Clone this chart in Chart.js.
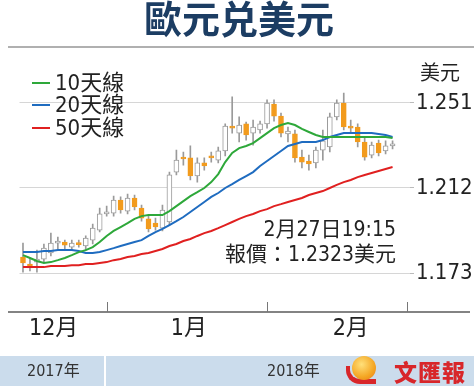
<!DOCTYPE html>
<html>
<head>
<meta charset="utf-8">
<script src="https://cdn.jsdelivr.net/npm/chart.js@4/dist/chart.umd.min.js"></script>
<style>
  html, body { margin:0; padding:0; background:#fff; }
  #wrap { position:relative; width:474px; height:389px; overflow:hidden; background:#fff; }
  canvas { position:absolute; left:0; top:0; }
  .narrow { font-family:'Liberation Sans Narrow','DejaVu Sans Condensed','Noto Sans CJK TC',sans-serif; }
  #title { position:absolute; left:0; top:-2px; width:478px; text-align:center; font-family:'Noto Sans CJK SC',sans-serif; font-weight:700; font-size:38px; line-height:38px; color:#1c3d63; }
  #rule { position:absolute; left:8px; top:46px; width:466px; height:2px; background:#b0b0b0; }
  .leg { position:absolute; left:32px; font-size:22px; line-height:22px; color:#222; white-space:nowrap; }
  .leg i { display:inline-block; width:18px; height:2px; vertical-align:middle; margin-right:5px; position:relative; top:-1px; }
  #unit { position:absolute; left:420px; top:61px; font-family:'Noto Sans CJK TC',sans-serif; font-size:20px; line-height:22px; color:#222; }
  .note { position:absolute; right:78px; font-size:21px; line-height:24px; color:#222; white-space:nowrap; }
  #strip { position:absolute; left:0; top:356px; width:474px; height:30px; background:#cbdcec; }
  #div { position:absolute; left:104px; top:356px; width:2px; height:30px; background:#fff; }
  .yr { position:absolute; top:362px; font-size:16px; line-height:18px; color:#333; }
  #logoText { position:absolute; left:394px; top:357px; font-family:'Noto Sans CJK TC',sans-serif; font-weight:900; font-size:23px; line-height:28px; color:#d8262a; letter-spacing:1px; }
  #logoIcon { position:absolute; left:352px; top:356px; width:24px; height:24px; border-radius:50%; background:radial-gradient(circle at 40% 35%, #ffe07a, #f4a623 60%, #e8761a); }
  #logoSwoosh { position:absolute; left:346px; top:366px; width:30px; height:18px; border-bottom:5px solid #d8262a; border-left:4px solid #d8262a; border-radius:0 0 0 14px; box-sizing:border-box; }
</style>
</head>
<body>
<div id="wrap">
  <canvas id="c" width="474" height="389"></canvas>
  <div id="title">歐元兑美元</div>
  <div id="rule"></div>
  <div class="leg narrow" style="top:72px"><i style="background:#2ea83a"></i>10天線</div>
  <div class="leg narrow" style="top:94px"><i style="background:#1f6cc0"></i>20天線</div>
  <div class="leg narrow" style="top:117px"><i style="background:#e02020"></i>50天線</div>
  <div id="unit">美元</div>
  <div class="note narrow" style="top:217px">2月27日19:15</div>
  <div class="note narrow" style="top:242px">報價：1.2323美元</div>
  <div id="strip"></div>
  <div id="div"></div>
  <div class="yr narrow" style="left:27px">2017年</div>
  <div class="yr narrow" style="left:267px">2018年</div>
  <div id="logoSwoosh"></div>
  <div id="logoIcon"></div>
  <div id="logoText">文匯報</div>
</div>
<script>
// ---- Data ----
const dates = [
  '12/14','12/15','12/18','12/19','12/20','12/21','12/22','12/25','12/26','12/27','12/28','12/29',
  '1/1','1/2','1/3','1/4','1/5','1/8','1/9','1/10','1/11','1/12','1/15','1/16','1/17','1/18','1/19',
  '1/22','1/23','1/24','1/25','1/26','1/29','1/30','1/31',
  '2/1','2/2','2/5','2/6','2/7','2/8','2/9','2/12','2/13','2/14','2/15','2/16','2/19','2/20','2/21',
  '2/22','2/23','2/26','2/27','2/28','3/1'
];
const openP = [1.1803,1.1771,1.1780,1.1794,1.1822,1.1867,1.1872,1.1849,1.1865,1.1854,1.1881,1.1927,
  1.2001,1.2005,1.2065,1.2014,1.2074,1.2028,1.1978,1.1959,1.1936,1.1964,1.2193,1.2258,1.2258,1.2175,1.2235,
  1.2262,1.2248,1.2290,1.2400,1.2372,1.2414,1.2372,1.2386,
  1.2414,1.2505,1.2450,1.2368,1.2368,1.2262,1.2244,1.2235,1.2294,1.2308,1.2446,1.2510,1.2404,1.2400,1.2331,
  1.2271,1.2326,1.2290,1.2313];
const highP = [1.1867,1.1799,1.1835,1.1863,1.1913,1.1895,1.1881,1.1881,1.1881,1.1900,1.1955,1.2028,
  1.2037,1.2083,1.2079,1.2092,1.2088,1.2042,1.1996,1.1982,1.2042,1.2193,1.2294,1.2285,1.2313,1.2258,1.2258,
  1.2285,1.2308,1.2414,1.2538,1.2446,1.2423,1.2432,1.2427,
  1.2524,1.2524,1.2464,1.2400,1.2386,1.2294,1.2271,1.2308,1.2386,1.2464,1.2524,1.2556,1.2432,1.2414,1.2354,
  1.2331,1.2340,1.2336,1.2336];
const lowP = [1.1734,1.1739,1.1734,1.1780,1.1808,1.1840,1.1835,1.1835,1.1849,1.1835,1.1863,1.1918,
  1.1991,1.1991,1.2005,1.2001,1.2019,1.1968,1.1918,1.1927,1.1923,1.1950,1.2180,1.2225,1.2157,1.2147,1.2202,
  1.2239,1.2235,1.2267,1.2372,1.2331,1.2340,1.2317,1.2372,
  1.2395,1.2427,1.2354,1.2331,1.2239,1.2212,1.2202,1.2212,1.2248,1.2285,1.2432,1.2386,1.2372,1.2308,1.2248,
  1.2258,1.2267,1.2276,1.2299];
const closeP = [1.1776,1.1753,1.1794,1.1844,1.1867,1.1870,1.1858,1.1867,1.1860,1.1890,1.1936,1.2001,
  1.2010,1.2065,1.2019,1.2074,1.2033,1.1982,1.1932,1.1941,1.2019,1.2180,1.2248,1.2253,1.2175,1.2235,1.2221,
  1.2258,1.2290,1.2404,1.2395,1.2409,1.2363,1.2400,1.2414,
  1.2510,1.2450,1.2372,1.2381,1.2258,1.2239,1.2230,1.2294,1.2336,1.2446,1.2510,1.2400,1.2395,1.2331,1.2262,
  1.2317,1.2281,1.2313,1.2323];
const ma10 = [1.1812,1.1799,1.1785,1.1776,1.1780,1.1789,1.1799,1.1812,1.1826,1.1835,1.1849,1.1872,
  1.1900,1.1923,1.1941,1.1959,1.1978,1.1991,1.1996,1.1996,1.1996,1.2014,1.2037,1.2060,1.2083,1.2101,1.2120,
  1.2147,1.2184,1.2239,1.2281,1.2303,1.2313,1.2326,1.2349,
  1.2372,1.2395,1.2409,1.2418,1.2409,1.2391,1.2377,1.2363,1.2354,1.2354,1.2354,1.2354,1.2354,1.2354,1.2354,
  1.2354,1.2354,1.2354,1.2349];
const ma20 = [1.1826,1.1826,1.1826,1.1831,1.1831,1.1835,1.1835,1.1835,1.1831,1.1822,1.1822,1.1826,
  1.1835,1.1844,1.1854,1.1863,1.1872,1.1881,1.1900,1.1918,1.1932,1.1950,1.1968,1.1987,1.2010,1.2033,1.2056,
  1.2079,1.2097,1.2120,1.2138,1.2157,1.2175,1.2193,1.2221,
  1.2244,1.2267,1.2290,1.2313,1.2322,1.2331,1.2331,1.2331,1.2340,1.2354,1.2363,1.2372,1.2372,1.2372,1.2372,
  1.2372,1.2368,1.2363,1.2354];
const ma50 = [1.1757,1.1757,1.1757,1.1757,1.1762,1.1762,1.1762,1.1766,1.1766,1.1771,1.1771,1.1776,
  1.1780,1.1789,1.1794,1.1803,1.1808,1.1817,1.1822,1.1831,1.1840,1.1854,1.1863,1.1877,1.1886,1.1900,1.1913,
  1.1923,1.1936,1.1950,1.1964,1.1978,1.1991,1.2001,1.2014,
  1.2023,1.2037,1.2046,1.2056,1.2065,1.2074,1.2088,1.2097,1.2106,1.2120,1.2134,1.2147,1.2157,1.2170,1.2180,
  1.2189,1.2198,1.2207,1.2216];
const yTicks = [1.173, 1.212, 1.251];
const monthStartIdx = [12, 35, 55];
const monthNames = ['12月', '1月', '2月'];

// ---- Build ----
const UP_FILL = '#ffffff', UP_LINE = '#9a9a9a', DOWN = '#f29b1d', WICK = '#9a9a9a';
const bodies = openP.map((o, i) => [o, closeP[i]]);
const wicks = lowP.map((l, i) => [l, highP[i]]);
const isUp = openP.map((o, i) => closeP[i] >= o);
const NARROW = "'Liberation Sans Narrow','DejaVu Sans Condensed','Noto Sans CJK TC',sans-serif";

const monthAxis = {
  id: 'monthAxis',
  afterDraw(chart) {
    const ctx = chart.ctx, xs = chart.scales.x;
    const yAxis = 312;
    ctx.save();
    ctx.strokeStyle = '#5a5a5a'; ctx.lineWidth = 1.5;
    ctx.beginPath(); ctx.moveTo(8, yAxis); ctx.lineTo(470, yAxis); ctx.stroke();
    ctx.strokeStyle = '#777'; ctx.lineWidth = 1;
    const px = monthStartIdx.map(i => Math.round(xs.getPixelForValue(i)) + 0.5);
    px.forEach(p => { ctx.beginPath(); ctx.moveTo(p, yAxis - 10); ctx.lineTo(p, yAxis); ctx.stroke(); });
    ctx.fillStyle = '#222'; ctx.font = '23px ' + NARROW;
    ctx.textAlign = 'center'; ctx.textBaseline = 'middle';
    const labelIdx = [4.4, 23.8, 47];
    monthNames.forEach((m, k) => ctx.fillText(m, xs.getPixelForValue(labelIdx[k]), 329));
    ctx.restore();
  }
};

new Chart(document.getElementById('c'), {
  type: 'bar',
  data: {
    labels: dates,
    datasets: [
      { type: 'line', data: ma10, borderColor: '#2ea83a', borderWidth: 2, pointRadius: 0, tension: 0, order: 0 },
      { type: 'line', data: ma20, borderColor: '#1f6cc0', borderWidth: 2, pointRadius: 0, tension: 0, order: 0 },
      { type: 'line', data: ma50, borderColor: '#e02020', borderWidth: 2, pointRadius: 0, tension: 0, order: 0 },
      { data: bodies, grouped: false, barThickness: 5, minBarLength: 2, borderSkipped: false, borderWidth: 1,
        backgroundColor: isUp.map(u => u ? UP_FILL : DOWN),
        borderColor: isUp.map(u => u ? UP_LINE : DOWN), order: 1 },
      { data: wicks, grouped: false, barThickness: 1, backgroundColor: WICK, borderWidth: 0, order: 2 }
    ]
  },
  options: {
    responsive: false, animation: false, devicePixelRatio: 1,
    layout: { padding: { left: 19.5, top: 60, bottom: 77, right: 0 } },
    plugins: { legend: { display: false }, tooltip: { enabled: false } },
    scales: {
      x: { type: 'category', display: false, offset: true },
      y: {
        position: 'right', min: 1.155106, max: 1.270729,
        afterBuildTicks: s => { s.ticks = yTicks.map(v => ({ value: v })); },
        afterFit: s => { s.width = 64; },
        border: { display: false },
        grid: { color: '#d6d6d6', lineWidth: 1, drawTicks: true, tickLength: 4, tickColor: '#bbb' },
        ticks: { padding: 2, color: '#222', font: { family: NARROW, size: 22 }, callback: v => v.toFixed(3) }
      }
    }
  },
  plugins: [monthAxis]
});
</script>
</body>
</html>
